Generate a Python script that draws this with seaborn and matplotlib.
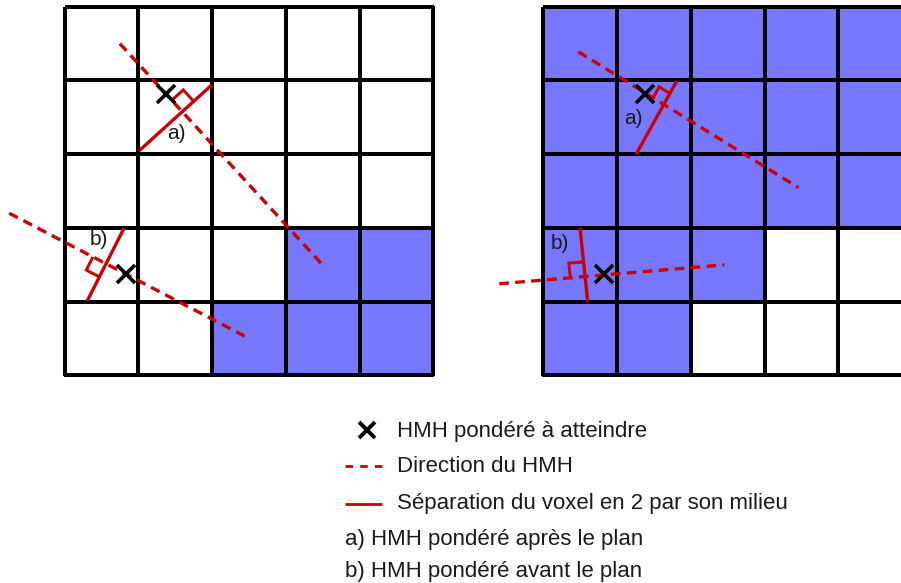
import numpy as np
import seaborn as sns
import matplotlib
matplotlib.use("Agg")
import matplotlib.pyplot as plt
from matplotlib.colors import ListedColormap

# ---------------- data ----------------
# voxel occupancy (1 = filled), rows listed from top to bottom
left_occupancy = [
    [0, 0, 0, 0, 0],
    [0, 0, 0, 0, 0],
    [0, 0, 0, 0, 0],
    [0, 0, 0, 1, 1],
    [0, 0, 1, 1, 1],
]
right_occupancy = [
    [1, 1, 1, 1, 1],
    [1, 1, 1, 1, 1],
    [1, 1, 1, 1, 1],
    [1, 1, 1, 0, 0],
    [1, 1, 0, 0, 0],
]

# positions in voxel units (x to the right, y downward from top-left corner)
left_dir_a = [(0.75, 0.50), (3.48, 3.48)]
left_cross_a = (1.37, 1.18)
left_sep_a = [(1.015, 1.951), (1.997, 1.061)]
left_label_a = (1.52, 1.72)

left_dir_b = [(-0.75, 2.80), (2.45, 4.47)]
left_cross_b = (0.834, 3.622)
left_sep_b = [(0.807, 3.003), (0.309, 3.988)]
left_label_b = (0.47, 3.15)

right_dir_a = [(0.475, 0.610), (3.46, 2.453)]
right_cross_a = (1.38, 1.183)
right_sep_a = [(1.81, 1.007), (1.258, 2.0)]
right_label_a = (1.22, 1.51)

right_dir_b = [(-0.597, 3.757), (2.456, 3.50)]
right_cross_b = (0.824, 3.622)
right_sep_b = [(0.498, 3.003), (0.602, 3.997)]
right_label_b = (0.23, 3.215)

legend_labels = [
    "HMH pondéré à atteindre",
    "Direction du HMH",
    "Séparation du voxel en 2 par son milieu",
    "a) HMH pondéré après le plan",
    "b) HMH pondéré avant le plan",
]

# ---------------- style ----------------
sns.set_style("white")
plt.rcParams["font.family"] = ["Liberation Sans", "DejaVu Sans"]

RED = "#CC0000"
BLUE = "#7878FF"
LW_RED = 2.4
DASH = (2.9, 1.9)

W, H = 901, 583
fig = plt.figure(figsize=(W / 100, H / 100), dpi=100)

cell = 73.75
grid_w = 5 * cell


def px_axes(x0, y0):
    return fig.add_axes([x0 / W, 1 - (y0 + grid_w) / H, grid_w / W, grid_w / H])


def right_angle(ax, sep, dirl, sn, sd, s):
    p1, p2 = np.array(dirl[0]), np.array(dirl[1])
    q1, q2 = np.array(sep[0]), np.array(sep[1])
    d = (p2 - p1) / np.linalg.norm(p2 - p1)
    n = (q2 - q1) / np.linalg.norm(q2 - q1)
    A = np.column_stack([p2 - p1, -(q2 - q1)])
    t, _ = np.linalg.solve(A, q1 - p1)
    P = p1 + t * (p2 - p1)
    pts = np.array([P + s * sn * n, P + s * sn * n + s * sd * d, P + s * sd * d])
    ax.plot(pts[:, 0], pts[:, 1], color=RED, lw=LW_RED * 0.9, clip_on=False,
            solid_joinstyle="miter", solid_capstyle="butt", zorder=4)


def panel(ax, occ, items):
    cmap = ListedColormap(["white", BLUE])
    sns.heatmap(np.array(occ), ax=ax, cmap=cmap, vmin=0, vmax=1, cbar=False,
                linewidths=1.5, linecolor="black", xticklabels=False,
                yticklabels=False)
    ax.collections[0].set_clip_on(False)
    ax.set_xlim(0, 5)
    ax.set_ylim(5, 0)
    for dirl, cross, sep, lab, txt, sn, sd, s in items:
        xs, ys = zip(*dirl)
        ax.plot(xs, ys, color=RED, lw=LW_RED, dashes=DASH, clip_on=False, zorder=3)
        xs, ys = zip(*sep)
        ax.plot(xs, ys, color=RED, lw=LW_RED, clip_on=False, zorder=3,
                solid_capstyle="butt")
        right_angle(ax, sep, dirl, sn, sd, s)
        ax.plot([cross[0]], [cross[1]], marker="x", ms=13, mew=2.6,
                color="black", ls="none", clip_on=False, zorder=5)
        ax.text(lab[0], lab[1], txt, ha="center", va="center", fontsize=15,
                color="#1a1a1a", zorder=6)


ax_l = px_axes(64.5, 6.7)
panel(ax_l, left_occupancy, [
    (left_dir_a, left_cross_a, left_sep_a, left_label_a, "a)", 1, -1, 0.21),
    (left_dir_b, left_cross_b, left_sep_b, left_label_b, "b)", 1, -1, 0.2),
])

ax_r = px_axes(543.3, 6.7)
panel(ax_r, right_occupancy, [
    (right_dir_a, right_cross_a, right_sep_a, right_label_a, "a)", -1, -1, 0.17),
    (right_dir_b, right_cross_b, right_sep_b, right_label_b, "b)", -1, -1, 0.2),
])

# ---------------- legend ----------------
ax_leg = fig.add_axes([0, 0, 1, 1])
ax_leg.set_xlim(0, W)
ax_leg.set_ylim(H, 0)
ax_leg.axis("off")
ax_leg.patch.set_alpha(0)

rows_y = [431, 467, 504, 539, 572]
fs = 16
ax_leg.plot([366.7], [430], marker="x", ms=12, mew=2.8, color="black", ls="none")
ax_leg.plot([345, 381.7], [466] * 2, color=RED, lw=2.0, dashes=(2.7, 2.6))
ax_leg.plot([345, 381.7], [504] * 2, color=RED, lw=2.0, solid_capstyle="butt")
for i, lab in enumerate(legend_labels):
    x = 397.3 if i < 3 else 345
    ax_leg.text(x, rows_y[i], lab, ha="left", va="center", fontsize=fs, color="#1a1a1a")

fig.savefig("out.png", dpi=100)
